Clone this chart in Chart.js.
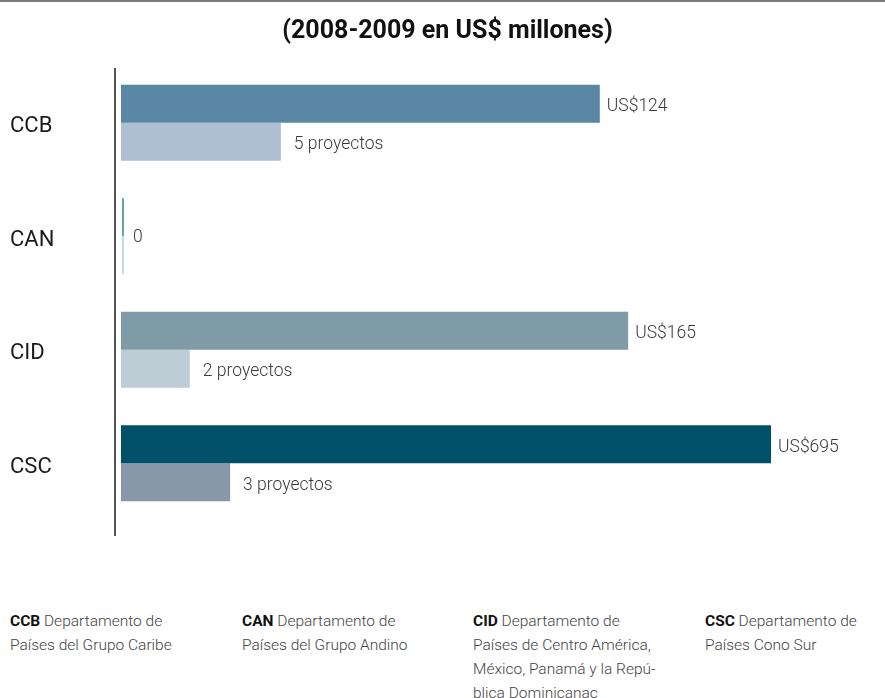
<!DOCTYPE html>
<html>
<head>
<meta charset="utf-8">
<script src="https://cdn.jsdelivr.net/npm/chart.js@4"></script>
<style>
  html, body { margin: 0; padding: 0; background: #fff; }
  body { width: 885px; height: 698px; overflow: hidden; position: relative; font-family: Roboto, sans-serif; }
  #topline { position: absolute; left: 0; top: 0; width: 885px; height: 2px; background: #7a7a7a; }
  #wrap { position: absolute; left: 0; top: 0; width: 885px; height: 560px; }
  .notes { position: absolute; top: 609px; left: 0; width: 885px; }
  .note { position: absolute; top: 0; width: 220px; font-size: 15.5px; line-height: 24px; color: #444; font-weight: 300; }
  .note b { color: #111; font-weight: 700; }
</style>
</head>
<body>
<div id="topline"></div>
<div id="wrap"><canvas id="bars"></canvas></div>
<div class="notes">
  <div class="note" style="left:10px"><b>CCB</b> Departamento de<br>Países del Grupo Caribe</div>
  <div class="note" style="left:242px"><b>CAN</b> Departamento de<br>Países del Grupo Andino</div>
  <div class="note" style="left:473px"><b>CID</b> Departamento de<br>Países de Centro América,<br>México, Panamá y la Repú-<br>blica Dominicanac</div>
  <div class="note" style="left:705px"><b>CSC</b> Departamento de<br>Países Cono Sur</div>
</div>
<script>
// categories and values (bars use a log axis starting at 1)
const categories = ['CCB', 'CAN', 'CID', 'CSC'];
const amounts = [124, 0, 165, 695];          // US$ millones
const projects = [5, 0, 2, 3];               // number of projects
const amountText = ['US$124', '0', 'US$165', 'US$695'];
const projectText = ['5 proyectos', '', '2 proyectos', '3 proyectos'];

const amountColors = ['#5a87a5', '#5fa9ad', '#7f9ba7', '#00506a'];
const projectColors = ['#adbfd1', '#bfe0e2', '#bccdd6', '#8799a9'];

// axis line on the left, a bit longer than the plot area
const axisLine = {
    id: 'axisLine',
    afterDraw(chart) {
        const {ctx, chartArea} = chart;
        ctx.save();
        ctx.strokeStyle = '#555';
        ctx.lineWidth = 2;
        ctx.beginPath();
        ctx.moveTo(chartArea.left - 6, chartArea.top + 2);
        ctx.lineTo(chartArea.left - 6, chartArea.bottom + 16);
        ctx.stroke();
        ctx.restore();
    }
};

// value labels + thin marker for zero bars
const barLabels = {
    id: 'barLabels',
    afterDatasetsDraw(chart) {
        const ctx = chart.ctx;
        const texts = [amountText, projectText];
        const gaps = [7, 13];
        ctx.save();
        ctx.font = '300 17.5px Roboto';
        ctx.fillStyle = '#3a3a3a';
        ctx.textBaseline = 'middle';
        chart.data.datasets.forEach((ds, di) => {
            const meta = chart.getDatasetMeta(di);
            meta.data.forEach((el, i) => {
                const v = ds.data[i];
                if (v === 0) {
                    ctx.save();
                    ctx.fillStyle = ds.backgroundColor[i];
                    ctx.fillRect(el.base + 1, el.y - el.height / 2, 2, el.height);
                    ctx.restore();
                }
                const t = texts[di][i];
                if (!t) return;
                const y = v === 0 ? el.y + el.height / 2 + 1 : el.y + 3;
                ctx.fillText(t, el.x + gaps[di] + (v === 0 ? 5 : 0), y);
            });
        });
        ctx.restore();
    }
};

new Chart(document.getElementById('bars').getContext('2d'), {
    type: 'bar',
    data: {
        labels: categories,
        datasets: [{
            label: 'US$ millones',
            data: amounts,
            backgroundColor: amountColors,
            barPercentage: 1,
            categoryPercentage: 0.67
        }, {
            label: 'proyectos',
            data: projects,
            backgroundColor: projectColors,
            barPercentage: 1,
            categoryPercentage: 0.67
        }]
    },
    options: {
        indexAxis: 'y',
        responsive: true,
        maintainAspectRatio: false,
        animation: false,
        layout: { padding: { left: 10, right: 0, top: 2, bottom: 40 } },
        plugins: {
            legend: { display: false },
            tooltip: { enabled: false },
            title: {
                display: true,
                text: '(2008-2009 en US$ millones)',
                color: '#111',
                font: { family: 'Roboto', size: 25, weight: 'bold' },
                padding: { top: 15, bottom: 19 }
            }
        },
        scales: {
            x: {
                type: 'logarithmic',
                min: 1,
                max: 2190,
                display: false
            },
            y: {
                grid: { display: false },
                border: { display: false },
                ticks: {
                    crossAlign: 'far',
                    labelOffset: 4,
                    color: '#1a1a1a',
                    font: { family: 'Roboto', size: 22 }
                },
                afterFit(scale) { scale.width = 111; }
            }
        }
    },
    plugins: [axisLine, barLabels]
});
</script>
</body>
</html>
